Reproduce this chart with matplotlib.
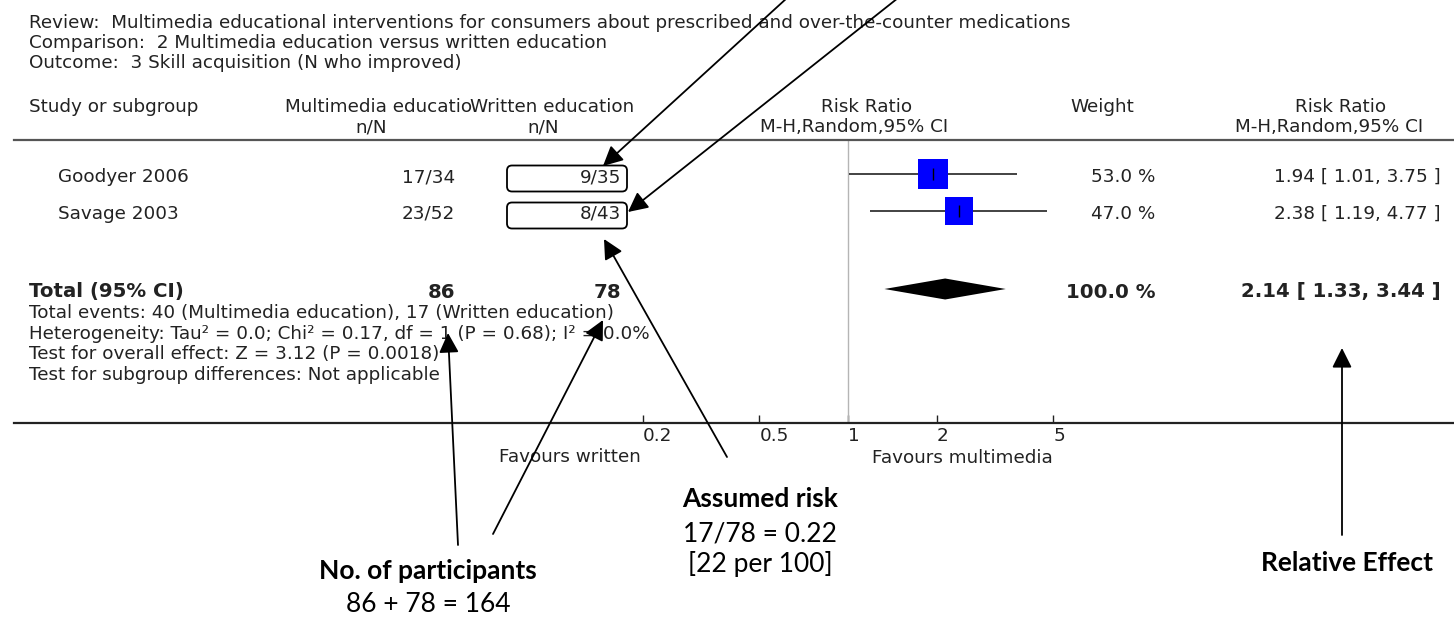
import numpy as np
import matplotlib.pyplot as plt
from matplotlib.patches import FancyBboxPatch

# forest plot data (risk ratio, M-H random)
studies = ['Goodyer 2006', 'Savage 2003']
mm_events = [17, 23]
mm_total = [34, 52]
wr_events = [9, 8]
wr_total = [35, 43]
weights = [53.0, 47.0]
rr = [1.94, 2.38]
rr_lo = [1.01, 1.19]
rr_hi = [3.75, 4.77]

pooled = 2.14
pooled_lo = 1.33
pooled_hi = 3.44

axis_ticks = [0.2, 0.5, 1, 2, 5]
axis_labels = ['0.2', '0.5', '1', '2', '5']

title_lines = [
    'Review:  Multimedia educational interventions for consumers about prescribed and over-the-counter medications',
    'Comparison:  2 Multimedia education versus written education',
    'Outcome:  3 Skill acquisition (N who improved)',
]
footer_lines = [
    'Total events: %d (Multimedia education), %d (Written education)' % (sum(mm_events), sum(wr_events)),
    'Heterogeneity: Tau\u00b2 = 0.0; Chi\u00b2 = 0.17, df = 1 (P = 0.68); I\u00b2 = 0.0%',
    'Test for overall effect: Z = 3.12 (P = 0.0018)',
    'Test for subgroup differences: Not applicable',
]

# layout in pixels (y downwards)
W, H = 1454, 620
x_one, px_dec = 848, 294
top_rule, axis_y = 140, 423
study_y = [174, 211]
total_y = 289
FONT = 'DejaVu Sans'
ANN = 'Lato'
fs = 13.2
fs_bold = 14.2
fs_ann = 19
tc = '#222222'

fig = plt.figure(figsize=(W / 100, H / 100), dpi=100)

# forest panel on a log scale
left = x_one + np.log10(0.2) * px_dec
right = x_one + np.log10(5) * px_dec
fax = fig.add_axes([left / W, (H - axis_y) / H, (right - left) / W, (axis_y - top_rule) / H])
fax.set_zorder(1)
fax.patch.set_visible(False)
fax.set_xscale('log')
fax.set_xlim(0.2, 5)
fax.set_ylim(axis_y, top_rule)
fax.minorticks_off()
fax.set_xticks(axis_ticks)
fax.set_xticklabels(axis_labels, fontfamily=FONT, fontsize=fs, color=tc)
for lbl in fax.get_xticklabels():
    lbl.set_horizontalalignment('left')
fax.set_yticks([])
fax.tick_params(axis='x', direction='in', length=6, width=1, color='#222222', pad=3)
for s in fax.spines.values():
    s.set_visible(False)

fax.axvline(1, color='#b5b5b5', lw=1)
for i in range(len(studies)):
    y = study_y[i]
    fax.plot([rr_lo[i], rr_hi[i]], [y, y], color='#222222', lw=1.2, solid_capstyle='butt')
    fax.plot(rr[i], y, marker='s', ms=21 * np.sqrt(weights[i] / 53.0), color='#0000ff', mec='#0000ff', mew=0)
    fax.plot(rr[i], y, marker='|', ms=9, color='black', mew=1)

fax.fill([pooled_lo, pooled, pooled_hi, pooled],
         [total_y, total_y - 10.5, total_y, total_y + 10.5], color='black', lw=0)

# overlay for table text and annotations
ax = fig.add_axes([0, 0, 1, 1])
ax.set_zorder(2)
ax.set_xlim(0, W)
ax.set_ylim(H, 0)
ax.axis('off')


def t(x, y, s, ha='left', bold=False, size=fs, family=FONT, color=tc):
    ax.text(x, y, s, ha=ha, va='center', fontsize=size, family=family,
            fontweight='bold' if bold else 'normal', color=color)


for k, line in enumerate(title_lines):
    t(29, 23 + 20 * k, line)

t(29, 107, 'Study or subgroup')
t(472, 107, 'Multimedia educatio', ha='right')
t(470, 107, 'Written education')
t(371, 127, 'n/N', ha='center')
t(543, 127, 'n/N', ha='center')
t(867, 107, 'Risk Ratio', ha='center')
t(854, 127, 'M-H,Random,95% CI', ha='center')
t(1102, 107, 'Weight', ha='center')
t(1341, 107, 'Risk Ratio', ha='center')
t(1329, 127, 'M-H,Random,95% CI', ha='center')

ax.plot([14, W], [top_rule, top_rule], color='#555555', lw=1.6)
ax.plot([14, W], [axis_y, axis_y], color='#222222', lw=1.6)

for i, name in enumerate(studies):
    y = study_y[i] + 3
    t(58, y, name)
    t(455, y, '%d/%d' % (mm_events[i], mm_total[i]), ha='right')
    t(621, y, '%d/%d' % (wr_events[i], wr_total[i]), ha='right')
    t(1155, y, '%.1f %%' % weights[i], ha='right')
    t(1441, y, '%.2f [ %.2f, %.2f ]' % (rr[i], rr_lo[i], rr_hi[i]), ha='right')
    ax.add_patch(FancyBboxPatch((507, y - 11.5), 120, 26,
                                boxstyle='round,pad=0,rounding_size=5',
                                fc='none', ec='black', lw=1.3))

ty = total_y + 3
t(29, ty, 'Total (95% CI)', bold=True, size=fs_bold)
t(455, ty, str(sum(mm_total)), ha='right', bold=True, size=fs_bold)
t(621, ty, str(sum(wr_total)), ha='right', bold=True, size=fs_bold)
t(1155, ty, '%.1f %%' % sum(weights), ha='right', bold=True, size=fs_bold)
t(1441, ty, '%.2f [ %.2f, %.2f ]' % (pooled, pooled_lo, pooled_hi), ha='right', bold=True, size=fs_bold)

for k, line in enumerate(footer_lines):
    t(29, 313 + 20.7 * k, line)

t(641, 457, 'Favours written', ha='right')
t(1053, 458, 'Favours multimedia', ha='right')

# annotation labels
n_all = sum(mm_total) + sum(wr_total)
risk = sum(wr_events) / sum(wr_total)
t(428, 571, 'No. of participants', ha='center', bold=True, size=fs_ann, family=ANN, color='black')
t(428, 604, '%d + %d = %d' % (sum(mm_total), sum(wr_total), n_all), ha='center', size=fs_ann, family=ANN, color='black')
t(760, 499, 'Assumed risk', ha='center', bold=True, size=fs_ann, family=ANN, color='black')
t(760, 534, '%d/%d = %.2f' % (sum(wr_events), sum(wr_total), risk), ha='center', size=fs_ann, family=ANN, color='black')
t(760, 564, '[%d per 100]' % round(risk * 100), ha='center', size=fs_ann, family=ANN, color='black')
t(1347, 563, 'Relative Effect', ha='center', bold=True, size=fs_ann, family=ANN, color='black')

arrows = [
    ((787, -2), (603, 166)),
    ((898, -2), (628, 212)),
    ((727, 457), (604, 239)),
    ((458, 545), (448, 333)),
    ((493, 534), (603, 320)),
    ((1342, 535), (1342, 348)),
]
for start, tip in arrows:
    ax.annotate('', xy=tip, xytext=start, annotation_clip=False,
                arrowprops=dict(arrowstyle='-|>,head_length=0.5,head_width=0.25',
                                mutation_scale=24, lw=1.3, color='black',
                                shrinkA=0, shrinkB=0))

fig.savefig('out.png', dpi=100)
